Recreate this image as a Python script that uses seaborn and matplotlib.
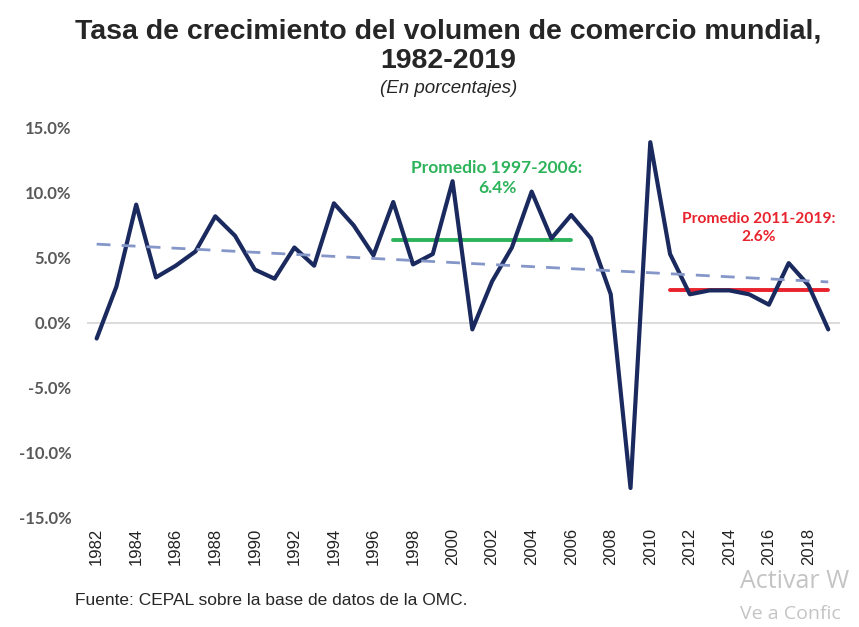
import numpy as np
import pandas as pd
import seaborn as sns
import matplotlib.pyplot as plt
from matplotlib.ticker import FuncFormatter

# annual growth of world trade volume (%)
years = list(range(1982, 2020))
growth = [-1.2, 2.8, 9.1, 3.5, 4.4, 5.5, 8.2, 6.7, 4.1, 3.4,
          5.8, 4.4, 9.2, 7.5, 5.2, 9.3, 4.5, 5.3, 10.9, -0.5,
          3.2, 5.8, 10.1, 6.5, 8.3, 6.5, 2.2, -12.7, 13.9, 5.3,
          2.2, 2.5, 2.5, 2.2, 1.4, 4.6, 2.9, -0.5]
yticks = [-15, -10, -5, 0, 5, 10, 15]
xtick_years = list(range(1982, 2019, 2))

df = pd.DataFrame({'year': years, 'growth': growth})

# period averages
p1 = df[(df.year >= 1997) & (df.year <= 2006)].copy()
p2 = df[(df.year >= 2011) & (df.year <= 2019)].copy()
p1['avg'] = p1.growth.mean()
p2['avg'] = p2.growth.mean()

sns.set_style("white")
fig = plt.figure(figsize=(8.59, 6.27), dpi=100)
ax = fig.add_axes([0.101, 0.174, 0.877, 0.622])

ax.axhline(0, color='#d9d9d9', lw=1.3, zorder=1)
sns.lineplot(data=p1, x='year', y='avg', color='#2db35a', lw=2.8, ax=ax, zorder=2)
sns.lineplot(data=p2, x='year', y='avg', color='#e8232d', lw=2.8, ax=ax, zorder=2)
sns.lineplot(data=df, x='year', y='growth', color='#1b2a5e', lw=3, ax=ax, zorder=3)
sns.regplot(data=df, x='year', y='growth', scatter=False, ci=None, ax=ax,
            line_kws={'color': '#8497c8', 'lw': 2, 'linestyle': (0, (5, 4)), 'zorder': 4})

ax.set_xlim(1981.5, 2019.6)
ax.set_ylim(-15, 15)
ax.set_yticks(yticks)
ax.yaxis.set_major_formatter(FuncFormatter(lambda v, p: f'{v:.1f}%'))
ax.set_xticks(xtick_years)
ax.set_xticklabels([str(y) for y in xtick_years], rotation=90,
                   family='Liberation Sans', fontsize=12, color='#222222')
for lab in ax.get_yticklabels():
    lab.set_family('Lato')
    lab.set_fontweight('bold')
    lab.set_fontsize(12)
    lab.set_color('#595959')
ax.tick_params(axis='y', length=0, pad=11)
ax.tick_params(axis='x', length=0, pad=7)
ax.set_xlabel('')
ax.set_ylabel('')
sns.despine(ax=ax, left=True, bottom=True)

ax.text(2002.25, 11.15, 'Promedio 1997-2006:\n6.4%', ha='center', va='center',
        family='Lato', fontweight='bold', fontsize=12.5, color='#2db35a', linespacing=1.35)
ax.text(2015.5, 7.3, 'Promedio 2011-2019:\n2.6%', ha='center', va='center',
        family='Lato', fontweight='bold', fontsize=11.2, color='#e8232d', linespacing=1.45)

fig.text(0.522, 0.926, 'Tasa de crecimiento del volumen de comercio mundial,\n1982-2019',
         ha='center', va='center', family='Liberation Sans', fontweight='bold',
         fontsize=20.5, linespacing=1.2)
fig.text(0.522, 0.859, '(En porcentajes)', ha='center', va='center',
         family='Liberation Sans', style='italic', fontsize=13.5)
fig.text(0.087, 0.043, 'Fuente: CEPAL sobre la base de datos de la OMC.',
         ha='left', va='center', family='Liberation Sans', fontsize=12.5)

# screen watermark visible in the capture (cut at the right edge)
fig.text(0.862, 0.072, 'Activar W', ha='left', va='center',
         family='Open Sans', fontsize=18, color='#c4c4c4')
fig.text(0.862, 0.02, 'Ve a Confic', ha='left', va='center',
         family='Open Sans', fontsize=14, color='#c4c4c4')

fig.savefig('out.png', dpi=100)
